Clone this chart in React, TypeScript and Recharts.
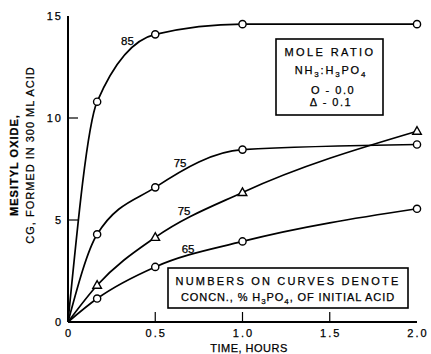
import React from 'react'
import { ComposedChart, Line, XAxis, YAxis, ReferenceDot } from 'recharts'

// time in hours, grams of mesityl oxide formed in 300 ml acid
const timeHours = [0, 0.167, 0.5, 1.0, 2.0]
const acid85 = [0, 10.8, 14.1, 14.6, 14.6]
const acid75 = [0, 4.3, 6.6, 8.45, 8.7]
const acid75Nh3 = [0, 1.8, 4.15, 6.35, 9.35]
const acid65 = [0, 1.15, 2.7, 3.95, 5.55]

const xTicks = [0, 0.5, 1.0, 1.5, 2.0]
const xTickLabels = ['0', '0.5', '1.0', '1.5', '2.0']
const yTicks = [0, 5, 10, 15]
const yTickLabels = ['0', '5', '10', '15']

const curveLabelText = ['85', '75', '75', '65']
const curveLabelX = [0.341, 0.642, 0.665, 0.688]
const curveLabelY = [13.77, 7.79, 5.44, 3.58]

const toPoints = (ys: number[]) => timeHours.map((t, i) => ({ t, v: ys[i] }))

const FONT = '"Liberation Sans", Arial, sans-serif'
const TICK = 10

const textStyle = { fontFamily: FONT, fontSize: 11, fill: '#000', stroke: '#000', strokeWidth: 0.25 }

function BottomTick({ x, y, payload }: any) {
  const i = xTicks.indexOf(payload.value)
  const inner = i > 0 && i < xTicks.length - 1
  return (
    <g>
      {inner && <line x1={x} y1={y} x2={x} y2={y - TICK} stroke="#000" strokeWidth={1.2} />}
      <text x={x + 1} y={y + 15} textAnchor="middle" letterSpacing={2} {...textStyle}>
        {xTickLabels[i]}
      </text>
    </g>
  )
}

function TopTick({ x, y, payload }: any) {
  const i = xTicks.indexOf(payload.value)
  if (i <= 0 || i >= xTicks.length - 1) return <g />
  return <line x1={x} y1={y} x2={x} y2={y + TICK} stroke="#000" strokeWidth={1.2} />
}

function LeftTick({ x, y, payload }: any) {
  const i = yTicks.indexOf(payload.value)
  const inner = i > 0 && i < yTicks.length - 1
  return (
    <g>
      {inner && <line x1={x} y1={y} x2={x + TICK} y2={y} stroke="#000" strokeWidth={1.2} />}
      <text x={x - 5} y={y + 4} textAnchor="end" letterSpacing={2} {...textStyle}>
        {yTickLabels[i]}
      </text>
    </g>
  )
}

function RightTick({ x, y, payload }: any) {
  const i = yTicks.indexOf(payload.value)
  if (i <= 0 || i >= yTicks.length - 1) return <g />
  return <line x1={x} y1={y} x2={x - TICK} y2={y} stroke="#000" strokeWidth={1.2} />
}

function CircleDot(props: any) {
  const { cx, cy, index } = props
  if (index === 0) return <g key={`c-${index}`} />
  return <circle key={`c-${index}`} cx={cx} cy={cy} r={3.6} fill="#fff" stroke="#000" strokeWidth={1.4} />
}

function TriangleDot(props: any) {
  const { cx, cy, index } = props
  if (index === 0) return <g key={`t-${index}`} />
  return (
    <polygon
      key={`t-${index}`}
      points={`${cx},${cy - 4.6} ${cx - 4.3},${cy + 3} ${cx + 4.3},${cy + 3}`}
      fill="#fff"
      stroke="#000"
      strokeWidth={1.4}
    />
  )
}

function CurveLabel(text: string) {
  return (props: any) => (
    <text x={props.cx} y={props.cy + 4} textAnchor="middle" {...textStyle} fontSize={11.5}>
      {text}
    </text>
  )
}

export default function App() {
  const series = [
    { key: 'a85', data: toPoints(acid85), dot: CircleDot },
    { key: 'a75', data: toPoints(acid75), dot: CircleDot },
    { key: 'a75n', data: toPoints(acid75Nh3), dot: TriangleDot },
    { key: 'a65', data: toPoints(acid65), dot: CircleDot },
  ]

  return (
    <div style={{ position: 'absolute', left: 0, top: 0, width: 431, height: 354, background: '#fff' }}>
      <ComposedChart width={431} height={354} margin={{ top: 16, right: 14, bottom: 0, left: 0 }}>
        <XAxis
          xAxisId="b"
          dataKey="t"
          type="number"
          domain={[0, 2]}
          ticks={xTicks}
          height={32}
          tickSize={0}
          tickMargin={0}
          tickLine={false}
          axisLine={{ stroke: '#000', strokeWidth: 2 }}
          tick={<BottomTick />}
          interval={0}
        />
        <XAxis
          xAxisId="t"
          orientation="top"
          dataKey="t"
          type="number"
          domain={[0, 2]}
          ticks={xTicks}
          height={0}
          tickSize={0}
          tickMargin={0}
          tickLine={false}
          axisLine={{ stroke: '#000', strokeWidth: 2 }}
          tick={<TopTick />}
          interval={0}
        />
        <YAxis
          yAxisId="l"
          type="number"
          domain={[0, 15]}
          ticks={yTicks}
          width={68}
          tickSize={0}
          tickMargin={0}
          tickLine={false}
          axisLine={{ stroke: '#000', strokeWidth: 2 }}
          tick={<LeftTick />}
          interval={0}
        />
        <YAxis
          yAxisId="r"
          orientation="right"
          type="number"
          domain={[0, 15]}
          ticks={yTicks}
          width={0}
          tickSize={0}
          tickMargin={0}
          tickLine={false}
          axisLine={{ stroke: '#000', strokeWidth: 2 }}
          tick={<RightTick />}
          interval={0}
        />
        {series.map((s) => (
          <Line
            key={s.key}
            xAxisId="b"
            yAxisId="l"
            data={s.data}
            dataKey="v"
            type="monotone"
            stroke="#000"
            strokeWidth={1.7}
            dot={s.dot}
            activeDot={false}
            isAnimationActive={false}
          />
        ))}
        {curveLabelText.map((txt, i) => (
          <ReferenceDot
            key={`lbl-${i}`}
            xAxisId="b"
            yAxisId="l"
            x={curveLabelX[i]}
            y={curveLabelY[i]}
            r={0}
            shape={CurveLabel(txt)}
          />
        ))}
      </ComposedChart>

      <svg
        width={431}
        height={354}
        style={{ position: 'absolute', left: 0, top: 0, pointerEvents: 'none' }}
      >
        <text transform="translate(18,165) rotate(-90)" textAnchor="middle" fontWeight="bold" letterSpacing={1} {...textStyle}>
          MESITYL OXIDE,
        </text>
        <text transform="translate(34,155) rotate(-90)" textAnchor="middle" letterSpacing={1} {...textStyle}>
          CG, FORMED IN 300 ML ACID
        </text>
        <text x={249} y={352} textAnchor="middle" letterSpacing={0.5} {...textStyle}>
          TIME, HOURS
        </text>

        <rect x={276} y={39} width={107} height={76} fill="#fff" stroke="#000" strokeWidth={1.6} />
        <text x={330} y={56} textAnchor="middle" letterSpacing={2.4} {...textStyle}>MOLE RATIO</text>
        <text x={331} y={74} textAnchor="middle" letterSpacing={1.8} {...textStyle}>
          <tspan>NH</tspan>
          <tspan dy={3} fontSize={8}>3</tspan>
          <tspan dy={-3}>:H</tspan>
          <tspan dy={3} fontSize={8}>3</tspan>
          <tspan dy={-3}>PO</tspan>
          <tspan dy={3} fontSize={8}>4</tspan>
        </text>
        <text x={333} y={93.5} textAnchor="middle" letterSpacing={1.5} {...textStyle}>O - 0.0</text>
        <text x={331} y={105.5} textAnchor="middle" letterSpacing={1.5} {...textStyle}>Δ - 0.1</text>

        <rect x={168} y={268} width={240} height={40} fill="#fff" stroke="#000" strokeWidth={1.6} />
        <text x={288} y={285} textAnchor="middle" letterSpacing={2.2} {...textStyle}>
          NUMBERS ON CURVES DENOTE
        </text>
        <text x={288} y={301} textAnchor="middle" letterSpacing={0.9} {...textStyle}>
          <tspan>CONCN., % H</tspan>
          <tspan dy={3} fontSize={8}>3</tspan>
          <tspan dy={-3}>PO</tspan>
          <tspan dy={3} fontSize={8}>4</tspan>
          <tspan dy={-3}>, OF INITIAL ACID</tspan>
        </text>
      </svg>
    </div>
  )
}
